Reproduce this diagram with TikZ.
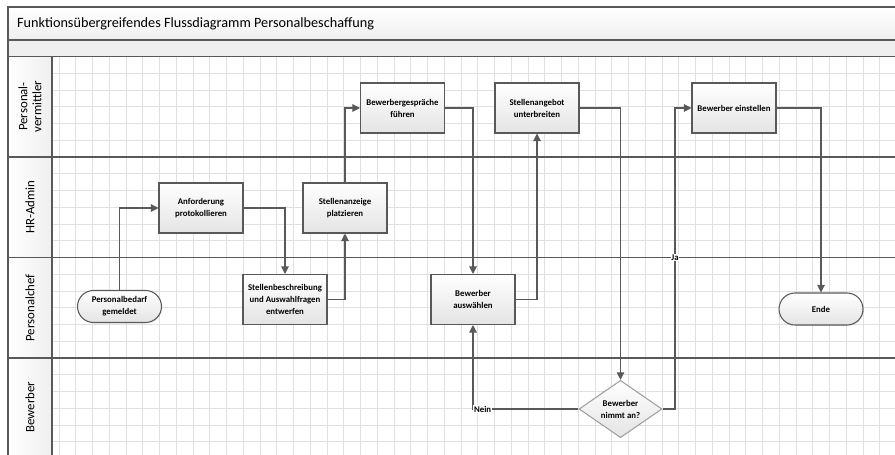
\documentclass[tikz,border=0pt]{standalone}
\usepackage{fontspec}
\setmainfont{Carlito}
\usetikzlibrary{arrows.meta,shapes.geometric,shadows}
\definecolor{linegray}{HTML}{595959}
\definecolor{gridgray}{HTML}{E0E0E0}
\definecolor{boxbottom}{HTML}{E4E4E4}
\definecolor{bandgray}{HTML}{EFEFEF}
\tikzset{
  gridline/.style={draw=gridgray, line width=0.5pt},
  frame/.style={draw=linegray, line width=0.7pt},
  task/.style={draw=linegray, line width=0.6pt, top color=white, bottom color=boxbottom,
    minimum width=1.68cm, minimum height=1cm, inner sep=1pt, align=center,
    font=\fontsize{5}{6.8}\selectfont\bfseries,
    drop shadow={shadow xshift=0.5pt, shadow yshift=-0.5pt, opacity=0.18}},
  terminal/.style={task, minimum height=0.64cm, rounded corners=0.32cm},
  decision/.style={diamond, draw=gray!75, line width=0.6pt, top color=white, bottom color=boxbottom,
    minimum width=1.66cm, minimum height=1cm, inner sep=0pt, align=center,
    font=\fontsize{5}{6.8}\selectfont\bfseries},
  lanelabel/.style={rotate=90, align=center, font=\fontsize{7.3}{8}\selectfont},
  conn/.style={draw=linegray, line width=0.6pt, -{Triangle[length=1.5mm, width=1.5mm]}},
  flabel/.style={fill=white, inner sep=0.4pt, font=\fontsize{5}{6}\selectfont\bfseries}
}
\begin{document}
\begin{tikzpicture}[x=0.02cm, y=-0.02cm]
\useasboundingbox (0,0) rectangle (895,455);
\fill[white] (0,0) rectangle (895,455);
\shade[top color=white, bottom color=bandgray] (8,7) rectangle (895,40);
\fill[bandgray] (8,40) rectangle (895,56.5);
\shade[left color=white, right color=bandgray] (8,56.5) rectangle (52,455);
\begin{scope}
\clip (52,56.5) rectangle (895,455);
\foreach \i in {0,...,50} \draw[gridline] ({59+16.75*\i},56.5) -- ({59+16.75*\i},455);
\foreach \j in {1,...,23} \draw[gridline] (52,{56.5+16.75*\j}) -- (895,{56.5+16.75*\j});
\end{scope}
\draw[frame, line width=0.9pt] (895,7) -- (8,7) -- (8,455);
\foreach \y in {40,56.5,157,257.5,358} \draw[frame] (8,\y) -- (895,\y);
\draw[frame] (52,56.5) -- (52,455);

\node[anchor=west, font=\fontsize{8.1}{9}\selectfont] (titel) at (11,23.5) {Funktionsübergreifendes Flussdiagramm Personalbeschaffung};
\node[lanelabel] (lvermittler) at (30,106.5) {Personal-\\vermittler};
\node[lanelabel] (ladmin) at (30,207) {HR-Admin};
\node[lanelabel] (lchef) at (30,308) {Personalchef};
\node[lanelabel] (lbewerber) at (30,407) {Bewerber};

\node[terminal] (bedarf) at (119.5,306.5) {Personalbedarf\\gemeldet};
\node[task] (anford) at (201,208) {Anforderung\\protokollieren};
\node[task] (beschr) at (285,299.5) {Stellenbeschreibung\\und Auswahlfragen\\entwerfen};
\node[task] (anzeige) at (345,208) {Stellenanzeige\\platzieren};
\node[task] (gespr) at (402.5,108) {Bewerbergespräche\\führen};
\node[task] (auswahl) at (473,299.5) {Bewerber\\auswählen};
\node[task] (angebot) at (537,108) {Stellenangebot\\unterbreiten};
\node[decision] (annahme) at (620.5,409) {Bewerber\\nimmt an?};
\node[task] (einst) at (734,108) {Bewerber einstellen};
\node[terminal] (ende) at (821,309) {Ende};

\draw[conn] (bedarf.north) |- (anford.west);
\draw[conn] (anford.east) -| (beschr.north);
\draw[conn] (beschr.east) -| (anzeige.south);
\draw[conn] (anzeige.north) |- (gespr.west);
\draw[conn] (gespr.east) -| (auswahl.north);
\draw[conn] (auswahl.east) -| (angebot.south);
\draw[conn] (angebot.east) -| (annahme.north);
\draw[conn] (annahme.west) -| (auswahl.south);
\coordinate (jaknick) at (675,257.5);
\draw[conn] (annahme.east) -| (jaknick) |- (einst.west);
\draw[conn] (einst.east) -| (ende.north);
\node[flabel, anchor=west] (nein) at (auswahl.south |- annahme.west) {Nein};
\node[flabel] (ja) at (jaknick) {Ja};
\end{tikzpicture}
\end{document}
